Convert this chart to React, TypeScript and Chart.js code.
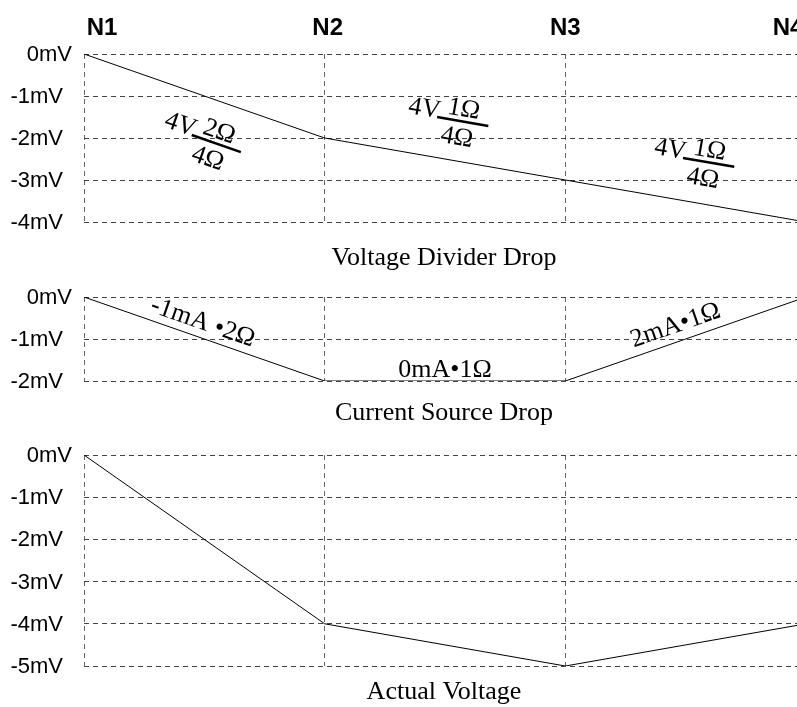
import React, { useEffect, useRef } from 'react';
import { Chart, registerables } from 'chart.js';

Chart.register(...registerables);

// ---- data ----
const nodes = ['N1', 'N2', 'N3', 'N4'];
const dividerDrop = [0, -2, -3, -4];
const currentDrop = [0, -2, -2, 0];
const actualVoltage = [0, -4, -5, -4];

const dividerSources = ['4V', '4V', '4V'];
const dividerNumerators = ['2Ω', '1Ω', '1Ω'];
const dividerDenominators = ['4Ω', '4Ω', '4Ω'];
const currentLabels = ['-1mA •2Ω', '0mA•1Ω', '2mA•1Ω'];
const panelTitles = ['Voltage Divider Drop', 'Current Source Drop', 'Actual Voltage'];

// ---- layout (positions / styles) ----
const W = 797; // visible page width
const CW = 806; // canvas width (plot runs slightly past the visible edge)
const SANS = '"Liberation Sans", Arial, sans-serif';
const SERIF = '"Liberation Serif", "Times New Roman", serif';

type Ann =
  | { kind: 'fraction'; lead: string; num: string; den: string; along: number; perp: number }
  | { kind: 'text'; text: string; along: number; perp: number };

interface Panel {
  data: number[];
  title: string;
  top: number;
  height: number;
  padTop: number;
  padBottom: number;
  titleBase: number;
  showNodes: boolean;
  anns: Ann[];
}

const dividerPlacement = [
  { along: 1, perp: 41 },
  { along: -15, perp: -40 },
  { along: -10, perp: -42 },
];
const currentPlacement = [
  { along: -7, perp: -15 },
  { along: 0, perp: -11 },
  { along: -5, perp: -16 },
];
const nodeShift = [18, 3, 0, -18];

const panels: Panel[] = [
  {
    data: dividerDrop,
    title: panelTitles[0],
    top: 0,
    height: 275,
    padTop: 54,
    padBottom: 53,
    titleBase: 43,
    showNodes: true,
    anns: dividerSources.map((lead, i) => ({
      kind: 'fraction' as const,
      lead,
      num: dividerNumerators[i],
      den: dividerDenominators[i],
      ...dividerPlacement[i],
    })),
  },
  {
    data: currentDrop,
    title: panelTitles[1],
    top: 275,
    height: 155,
    padTop: 22,
    padBottom: 49,
    titleBase: 39,
    showNodes: false,
    anns: currentLabels.map((text, i) => ({ kind: 'text' as const, text, ...currentPlacement[i] })),
  },
  {
    data: actualVoltage,
    title: panelTitles[2],
    top: 430,
    height: 277,
    padTop: 25,
    padBottom: 41,
    titleBase: 33,
    showNodes: false,
    anns: [],
  },
];

function makeDecor(panel: Panel) {
  return {
    id: 'decor',
    afterDraw(chart: any) {
      const ctx: CanvasRenderingContext2D = chart.ctx;
      const area = chart.chartArea;
      const xs = chart.scales.x;
      const ys = chart.scales.y;
      ctx.save();
      ctx.fillStyle = '#000';
      ctx.strokeStyle = '#000';

      // y tick labels
      ctx.font = `22px ${SANS}`;
      ctx.textAlign = 'right';
      ctx.textBaseline = 'middle';
      ys.ticks.forEach((t: any) => {
        const y = ys.getPixelForValue(t.value);
        const x = area.left - 12 - (t.value < 0 ? 9 : 0);
        ctx.fillText(`${t.value}mV`, x, y + 1);
      });

      // node labels
      if (panel.showNodes) {
        ctx.font = `bold 24px ${SANS}`;
        ctx.textAlign = 'center';
        ctx.textBaseline = 'alphabetic';
        nodes.forEach((n, i) => {
          ctx.fillText(n, xs.getPixelForValue(i) + nodeShift[i], 35);
        });
      }

      // title
      ctx.font = `26px ${SERIF}`;
      ctx.textAlign = 'center';
      ctx.textBaseline = 'alphabetic';
      ctx.fillText(panel.title, 444, area.bottom + panel.titleBase);

      // segment annotations
      panel.anns.forEach((a, i) => {
        const x0 = xs.getPixelForValue(i);
        const x1 = xs.getPixelForValue(i + 1);
        const y0 = ys.getPixelForValue(panel.data[i]);
        const y1 = ys.getPixelForValue(panel.data[i + 1]);
        const ang = Math.atan2(y1 - y0, x1 - x0);
        ctx.save();
        ctx.translate((x0 + x1) / 2, (y0 + y1) / 2);
        ctx.rotate(ang);
        ctx.translate(a.along, a.perp);
        ctx.font = `26px ${SERIF}`;
        if (a.kind === 'fraction') {
          ctx.lineWidth = 2.5;
          ctx.beginPath();
          ctx.moveTo(0, 0);
          ctx.lineTo(52, 0);
          ctx.stroke();
          ctx.textBaseline = 'alphabetic';
          ctx.textAlign = 'right';
          ctx.fillText(a.lead, 2, 1);
          ctx.textAlign = 'center';
          ctx.fillText(a.num, 25, -5);
          ctx.fillText(a.den, 23, 24);
        } else {
          ctx.textBaseline = 'middle';
          ctx.textAlign = 'center';
          ctx.fillText(a.text, 0, 0);
        }
        ctx.restore();
      });
      ctx.restore();
    },
  };
}

function PanelChart({ panel }: { panel: Panel }) {
  const ref = useRef<HTMLCanvasElement | null>(null);
  useEffect(() => {
    if (!ref.current) return;
    const chart = new Chart(ref.current, {
      type: 'line',
      data: {
        labels: nodes,
        datasets: [
          {
            data: panel.data,
            borderColor: '#000',
            borderWidth: 1,
            pointRadius: 0,
            tension: 0,
            fill: false,
          },
        ],
      },
      options: {
        responsive: false,
        animation: false,
        devicePixelRatio: 1,
        layout: { padding: { top: panel.padTop, bottom: panel.padBottom, left: 0, right: 0 } },
        plugins: { legend: { display: false }, tooltip: { enabled: false }, title: { display: false } },
        events: [],
        scales: {
          x: {
            type: 'category',
            offset: false,
            border: { display: false, dash: [5, 4] },
            ticks: { display: false },
            grid: {
              drawTicks: false,
              color: (c: any) => (c.index === nodes.length - 1 ? 'rgba(0,0,0,0)' : '#666'),
              lineWidth: 1,
            },
          } as any,
          y: {
            min: Math.min(...panel.data),
            max: Math.max(...panel.data),
            border: { display: false, dash: [5, 4] },
            ticks: { display: false, stepSize: 1 },
            grid: { drawTicks: false, color: '#444', lineWidth: 1 },
            afterFit: (s: any) => {
              s.width = 84;
            },
          } as any,
        },
      },
      plugins: [makeDecor(panel)],
    });
    return () => chart.destroy();
  }, [panel]);
  return (
    <canvas
      ref={ref}
      width={CW}
      height={panel.height}
      style={{ position: 'absolute', left: 0, top: panel.top, width: CW, height: panel.height }}
    />
  );
}

export default function App() {
  return (
    <div
      style={{
        position: 'absolute',
        left: 0,
        top: 0,
        width: W,
        height: 707,
        overflow: 'hidden',
        background: '#fff',
      }}
    >
      {panels.map((p, i) => (
        <PanelChart key={i} panel={p} />
      ))}
    </div>
  );
}
